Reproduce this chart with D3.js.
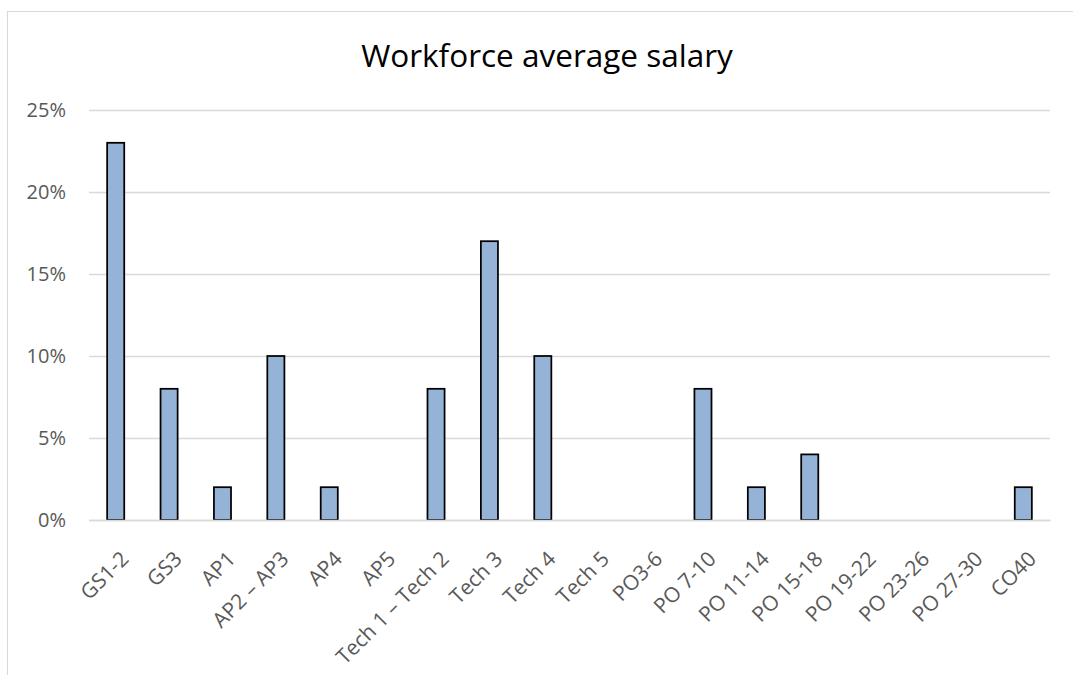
<!DOCTYPE html>
<html>
<head>
<meta charset="utf-8">
<script src="https://cdn.jsdelivr.net/npm/d3@7"></script>
<style>
  body { margin: 0; background: #fff; }
  svg { display: block; }
</style>
</head>
<body>
<svg id="chart" width="1073" height="675"></svg>
<script>
const categories = ["GS1-2", "GS3", "AP1", "AP2 – AP3", "AP4", "AP5", "Tech 1 – Tech 2", "Tech 3", "Tech 4", "Tech 5", "PO3-6", "PO 7-10", "PO 11-14", "PO 15-18", "PO 19-22", "PO 23-26", "PO 27-30", "CO40"];
const values = [23, 8, 2, 10, 2, 0, 8, 17, 10, 0, 0, 8, 2, 4, 0, 0, 0, 2];
const yTicks = [0, 5, 10, 15, 20, 25];
const title = "Workforce average salary";

const svg = d3.select("#chart");
const font = "'Open Sans', 'Liberation Sans', sans-serif";

// chart border
svg.append("rect").attr("x", 7.5).attr("y", 11.5).attr("width", 1100).attr("height", 700)
  .attr("fill", "none").attr("stroke", "#d9d9d9").attr("stroke-width", 1);

const margin = { left: 89, right: 1050, top: 110, bottom: 520 };
const x = d3.scaleBand().domain(categories).range([margin.left, margin.right]).paddingInner(0.68).paddingOuter(0.34);
const y = d3.scaleLinear().domain([0, 25]).range([margin.bottom, margin.top]);

// gridlines
const yAxis = d3.axisLeft(y).tickValues(yTicks).tickFormat(d => d + "%")
  .tickSize(-(margin.right - margin.left)).tickPadding(23);
const gy = svg.append("g").attr("transform", `translate(${margin.left},0)`).call(yAxis);
gy.select(".domain").remove();
gy.selectAll(".tick line").attr("stroke", "#d9d9d9").attr("stroke-width", 1.5);
gy.selectAll(".tick text").attr("fill", "#595959").style("font-family", font).style("font-size", "20px");

// bars
svg.append("g").selectAll("rect")
  .data(categories.map((c, i) => ({ c, v: values[i] })).filter(d => d.v > 0))
  .join("rect")
  .attr("x", d => x(d.c))
  .attr("width", x.bandwidth())
  .attr("y", d => y(d.v))
  .attr("height", d => y(0) - y(d.v))
  .attr("fill", "#95b3d7")
  .attr("stroke", "#000")
  .attr("stroke-width", 1.75);

// x axis
const xAxis = d3.axisBottom(x).tickSize(0).tickPadding(0);
const gx = svg.append("g").attr("transform", `translate(0,${margin.bottom})`).call(xAxis);
gx.select(".domain").attr("stroke", "#d9d9d9").attr("stroke-width", 1.5);
gx.selectAll(".tick text")
  .attr("fill", "#595959").style("font-family", font).style("font-size", "21px")
  .attr("text-anchor", "end")
  .attr("dy", "0.35em")
  .attr("transform", "translate(9,35) rotate(-45)")
  .attr("y", 0).attr("x", 0);

// title
svg.append("text").attr("x", 547).attr("y", 67).attr("text-anchor", "middle")
  .style("font-family", font).style("font-size", "31.5px").attr("fill", "#000")
  .text(title);
</script>
</body>
</html>
